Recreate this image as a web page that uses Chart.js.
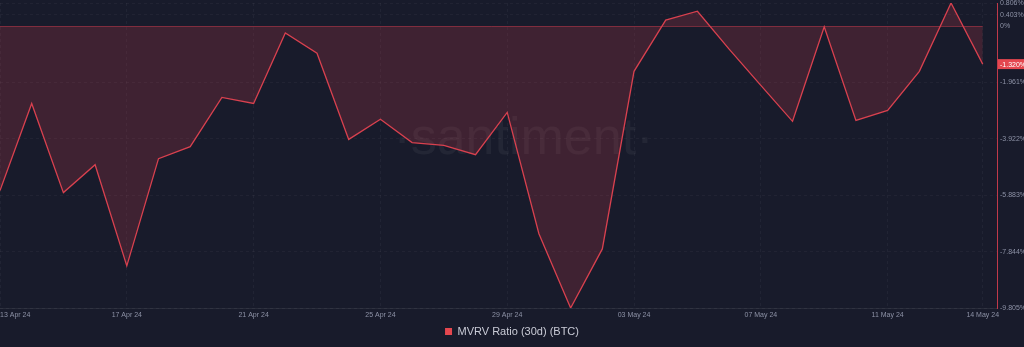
<!DOCTYPE html>
<html>
<head>
<meta charset="utf-8">
<script src="https://cdn.jsdelivr.net/npm/chart.js@4.4.1/dist/chart.umd.min.js"></script>
<style>
html, body { margin: 0; padding: 0; background: #181b2b; }
#wrap { width: 1024px; height: 347px; position: relative; }
</style>
</head>
<body>
<div id="wrap"><canvas id="myChart"></canvas></div>
<script>
// MVRV 30d - BTC //

var dates = ['13 Apr 24', '14 Apr 24', '15 Apr 24', '16 Apr 24', '17 Apr 24', '18 Apr 24', '19 Apr 24', '20 Apr 24',
    '21 Apr 24', '22 Apr 24', '23 Apr 24', '24 Apr 24', '25 Apr 24', '26 Apr 24', '27 Apr 24', '28 Apr 24',
    '29 Apr 24', '30 Apr 24', '01 May 24', '02 May 24', '03 May 24', '04 May 24', '05 May 24', '06 May 24',
    '07 May 24', '08 May 24', '09 May 24', '10 May 24', '11 May 24', '12 May 24', '13 May 24', '14 May 24'];

var mvrv = [-5.72, -2.69, -5.79, -4.82, -8.34, -4.61, -4.19, -2.48,
    -2.69, -0.24, -0.94, -3.94, -3.24, -4.05, -4.15, -4.47,
    -3.00, -7.22, -9.805, -7.75, -1.57, 0.21, 0.52, -0.80,
    -2.06, -3.31, -0.02, -3.28, -2.93, -1.57, 0.806, -1.32];

var yTicks = [0.806, 0.403, 0, -1.961, -3.922, -5.883, -7.844, -9.805];
var yTickLabels = ['0.806%', '0.403%', '0%', '-1.961%', '-3.922%', '-5.883%', '-7.844%', '-9.805%'];
var xTicks = [0, 4, 8, 12, 16, 20, 24, 28, 31];
var lastLabel = '-1.320%';

var red = '#d9414f';
var font = '"Liberation Sans", Arial, sans-serif';

// watermark, zero line, last value badge
var extras = {
    id: 'extras',
    beforeDatasetsDraw: function (chart) {
        var c = chart.ctx, a = chart.chartArea;
        c.save();
        c.font = '52px ' + font;
        c.fillStyle = 'rgba(255,255,255,0.05)';
        c.textAlign = 'center';
        c.textBaseline = 'middle';
        c.fillText('\u00b7santiment\u00b7', a.left + a.width * 0.525, 140);
        // zero line, only under the data
        var y0 = Math.round(chart.scales.y.getPixelForValue(0)) + 0.5;
        var xEnd = chart.scales.x.getPixelForValue(mvrv.length - 1);
        c.strokeStyle = 'rgba(220,65,80,0.45)';
        c.lineWidth = 1;
        c.beginPath();
        c.moveTo(a.left, y0);
        c.lineTo(xEnd, y0);
        c.stroke();
        c.restore();
    },
    afterDraw: function (chart) {
        var c = chart.ctx, a = chart.chartArea;
        var y = chart.scales.y.getPixelForValue(mvrv[mvrv.length - 1]);
        c.save();
        c.fillStyle = '#e5474f';
        c.fillRect(a.right + 1, y - 5, 30, 10);
        c.font = '7px ' + font;
        c.fillStyle = '#ffffff';
        c.textAlign = 'left';
        c.textBaseline = 'middle';
        c.fillText(lastLabel, a.right + 3, y + 0.5);
        c.restore();
    }
};

var ctx = document.getElementById('myChart').getContext('2d');
var chart = new Chart(ctx, {
    type: 'line',
    data: {
        datasets: [{
            label: 'MVRV Ratio (30d) (BTC)',
            data: mvrv.map(function (v, i) { return { x: i, y: v }; }),
            borderColor: red,
            backgroundColor: 'rgba(220,65,80,0.2)',
            borderWidth: 1.3,
            pointRadius: 0,
            tension: 0,
            fill: { target: { value: 0 } }
        }]
    },
    options: {
        responsive: true,
        maintainAspectRatio: false,
        animation: false,
        layout: { padding: { top: 3, left: 0, right: 0, bottom: 0 } },
        plugins: {
            legend: {
                position: 'bottom',
                labels: {
                    boxWidth: 7,
                    boxHeight: 7,
                    padding: 7,
                    color: '#c9cbd6',
                    font: { family: font, size: 11 },
                    generateLabels: function (chart) {
                        return [{ text: 'MVRV Ratio (30d) (BTC)', fillStyle: '#e5474f', strokeStyle: '#e5474f', lineWidth: 0, fontColor: '#c9cbd6', datasetIndex: 0 }];
                    }
                }
            },
            tooltip: { enabled: false }
        },
        scales: {
            x: {
                type: 'linear',
                min: 0,
                max: 31.45,
                afterBuildTicks: function (scale) {
                    scale.ticks = xTicks.concat([31.45]).map(function (v) { return { value: v }; });
                },
                afterFit: function (scale) {
                    scale.paddingLeft = 0;
                    scale.paddingRight = 0;
                    scale.height = 11;
                },
                ticks: {
                    autoSkip: false,
                    maxRotation: 0,
                    align: 'inner',
                    padding: 3,
                    color: '#8d92a6',
                    font: { family: font, size: 7 },
                    callback: function (v) {
                        return xTicks.indexOf(v) >= 0 ? dates[v] : '';
                    }
                },
                grid: {
                    color: 'rgba(255,255,255,0.045)',
                    drawTicks: false
                },
                border: { color: 'rgba(255,255,255,0.07)', dash: [3, 3] }
            },
            y: {
                position: 'right',
                min: -9.805,
                max: 0.806,
                afterBuildTicks: function (scale) {
                    scale.ticks = yTicks.map(function (v) { return { value: v }; });
                },
                afterFit: function (scale) {
                    scale.width = 27;
                    scale.paddingTop = 0;
                    scale.paddingBottom = 0;
                },
                ticks: {
                    padding: 3,
                    color: '#8d92a6',
                    font: { family: font, size: 7 },
                    callback: function (v) {
                        var i = yTicks.indexOf(v);
                        return i >= 0 ? yTickLabels[i] : '';
                    }
                },
                grid: {
                    drawTicks: false,
                    color: function (c) {
                        return c.tick && c.tick.value === 0 ? 'rgba(0,0,0,0)' : 'rgba(255,255,255,0.04)';
                    }
                },
                border: { color: '#c0394a', width: 1, dash: [3, 3] }
            }
        }
    },
    plugins: [extras]
});
</script>
</body>
</html>
